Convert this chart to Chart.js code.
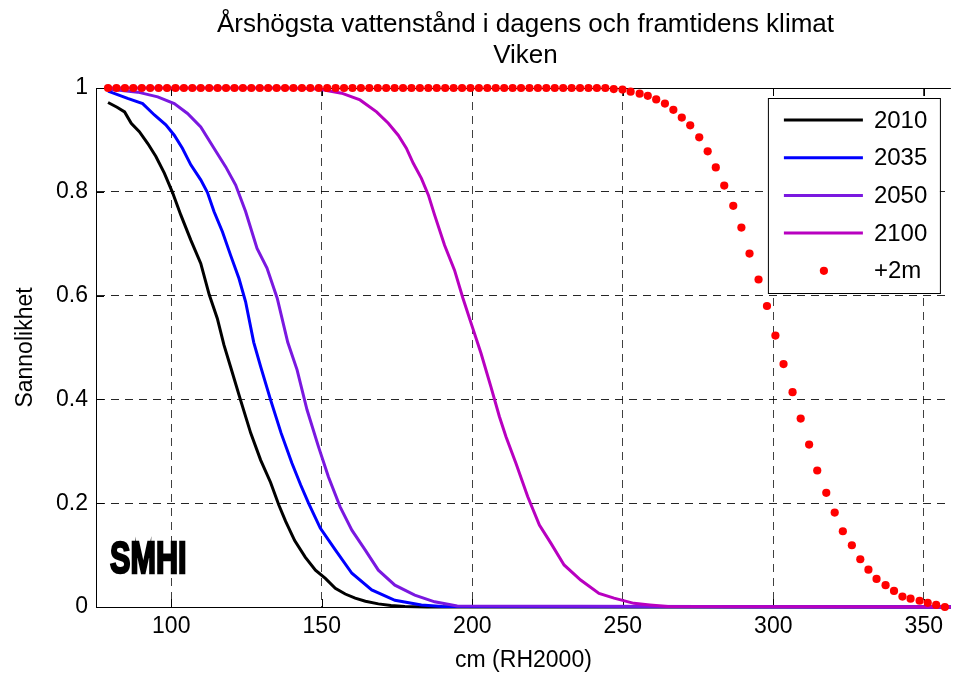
<!DOCTYPE html>
<html>
<head>
<meta charset="utf-8">
<title>Årshögsta vattenstånd – Viken</title>
<script src="https://cdn.jsdelivr.net/npm/chart.js@4.4.0/dist/chart.umd.min.js"></script>
<style>
  html, body { margin: 0; padding: 0; background: #fff; }
  #chart { display: block; }
</style>
</head>
<body>
<canvas id="chart" width="955" height="676"></canvas>
<script>
// values (x = cm RH2000, y = probability)
const titleLines = ['Årshögsta vattenstånd i dagens och framtidens klimat', 'Viken'];
const xTitle = 'cm (RH2000)';
const yTitle = 'Sannolikhet';
const yTickLabels = ['0', '0.2', '0.4', '0.6', '0.8', '1'];

const x2010 = [79.0, 82.0, 84.5, 86.7, 89.4, 92.2, 94.9, 97.7, 100.4, 103.2, 106.5, 109.8, 112.6, 115.3, 117.5, 119.7, 123.0, 126.4, 129.7, 133.0, 135.7, 138.0, 141.0, 144.5, 147.9, 151.2, 154.5, 157.8, 161.1, 164.5, 168.8, 173.0, 177.6, 185.0, 359.0];
const y2010 = [0.972, 0.963, 0.954, 0.932, 0.916, 0.893, 0.868, 0.836, 0.799, 0.755, 0.707, 0.662, 0.602, 0.556, 0.505, 0.463, 0.399, 0.335, 0.283, 0.240, 0.197, 0.165, 0.128, 0.096, 0.071, 0.055, 0.036, 0.025, 0.017, 0.011, 0.006, 0.003, 0.001, 0, 0];

const x2035 = [79.0, 85.5, 90.5, 94.4, 98.2, 101.0, 103.7, 106.5, 109.8, 112.0, 114.2, 117.0, 119.7, 122.5, 124.7, 127.4, 129.7, 133.0, 136.5, 140.1, 143.0, 145.6, 149.5, 154.5, 160.0, 166.6, 174.3, 183.1, 190.0, 359.0];
const y2035 = [0.994, 0.980, 0.970, 0.948, 0.929, 0.909, 0.884, 0.852, 0.823, 0.799, 0.762, 0.723, 0.678, 0.633, 0.588, 0.510, 0.463, 0.399, 0.335, 0.277, 0.235, 0.200, 0.152, 0.110, 0.065, 0.033, 0.013, 0.004, 0.001, 0];

const x2050 = [79.0, 88.9, 95.5, 101.0, 105.4, 109.8, 114.2, 118.1, 121.4, 124.7, 128.5, 131.8, 135.2, 138.7, 141.8, 145.1, 148.9, 152.2, 156.1, 160.0, 164.4, 168.8, 174.3, 180.9, 187.5, 195.0, 359.0];
const y2050 = [0.998, 0.992, 0.983, 0.970, 0.951, 0.925, 0.884, 0.848, 0.813, 0.762, 0.691, 0.653, 0.595, 0.510, 0.457, 0.380, 0.309, 0.251, 0.193, 0.148, 0.110, 0.071, 0.042, 0.023, 0.010, 0.002, 0];

const x2100 = [79.0, 140.0, 148.9, 156.6, 162.7, 168.2, 172.1, 175.4, 178.1, 180.4, 183.1, 185.4, 187.5, 190.8, 194.1, 196.9, 199.6, 202.9, 206.2, 209.0, 211.2, 214.5, 218.4, 222.3, 226.1, 230.5, 236.0, 242.1, 247.1, 253.7, 259.0, 265.0, 359.0];
const y2100 = [1.0, 1.0, 0.998, 0.990, 0.977, 0.954, 0.932, 0.909, 0.884, 0.855, 0.826, 0.794, 0.755, 0.697, 0.649, 0.595, 0.547, 0.489, 0.424, 0.367, 0.328, 0.277, 0.213, 0.158, 0.123, 0.081, 0.052, 0.026, 0.017, 0.007, 0.004, 0.001, 0];

const xPlus2m = [79.0, 81.8, 84.6, 87.4, 90.2, 93.0, 95.8, 98.6, 101.4, 104.2, 107.0, 109.8, 112.6, 115.4, 118.2, 121.0, 123.8, 126.6, 129.4, 132.2,
  135.0, 137.8, 140.6, 143.4, 146.2, 149.0, 151.8, 154.6, 157.4, 160.2, 163.0, 165.8, 168.6, 171.4, 174.2, 177.0, 179.8, 182.6, 185.4, 188.2,
  191.0, 193.8, 196.6, 199.4, 202.2, 205.0, 207.8, 210.6, 213.4, 216.2, 219.0, 221.8, 224.6, 227.4, 230.2, 233.0, 235.8, 238.6,
  241.4, 244.2, 247.0, 249.9, 252.6, 255.6, 258.3, 261.1, 264.0, 266.8, 269.6, 272.4, 275.4, 278.2, 280.9, 283.7, 286.7, 289.4, 292.1, 295.1,
  297.9, 300.7, 303.4, 306.4, 309.1, 311.9, 314.6, 317.6, 320.4, 323.1, 326.1, 328.9, 331.6, 334.3, 337.3, 340.1, 342.9, 345.6, 348.6, 351.3,
  354.1, 357.0];
const yPlus2m = [1, 1, 1, 1, 1, 1, 1, 1, 1, 1, 1, 1, 1, 1, 1, 1, 1, 1, 1, 1,
  1, 1, 1, 1, 1, 1, 1, 1, 1, 1, 1, 1, 1, 1, 1, 1, 1, 1, 1, 1,
  1, 1, 1, 1, 1, 1, 1, 1, 1, 1, 1, 1, 1, 1, 1, 1, 1, 1,
  1.0, 1.0, 0.998, 0.997, 0.993, 0.989, 0.985, 0.978, 0.970, 0.958, 0.943, 0.928, 0.905, 0.878, 0.847, 0.812, 0.773, 0.731, 0.681, 0.631,
  0.580, 0.523, 0.468, 0.414, 0.363, 0.313, 0.263, 0.220, 0.182, 0.146, 0.119, 0.092, 0.072, 0.054, 0.042, 0.031, 0.020, 0.016, 0.012, 0.008,
  0.004, 0.0];

const FONT = "'Liberation Sans', Arial, Helvetica, sans-serif";

function toPoints(xs, ys) {
    return xs.map((x, i) => ({ x: x, y: ys[i] }));
}

function lineSet(label, xs, ys, color, order) {
    return {
        label: label,
        data: toPoints(xs, ys),
        showLine: true,
        borderColor: color,
        backgroundColor: color,
        borderWidth: 3,
        pointRadius: 0,
        tension: 0,
        clip: false,
        order: order
    };
}

// extra drawing that MATLAB does and Chart.js does not: box, inner ticks, legend box, title, logo
const matlabLook = {
    id: 'matlabLook',
    beforeDatasetsDraw(chart) {
        const { ctx, chartArea: a, scales } = chart;
        ctx.save();
        ctx.strokeStyle = '#000';
        ctx.lineWidth = 1;
        ctx.beginPath();
        ctx.moveTo(a.left, a.top + 0.5);
        ctx.lineTo(a.right, a.top + 0.5);
        scales.x.ticks.forEach(t => {
            const px = Math.round(scales.x.getPixelForValue(t.value)) + 0.5;
            ctx.moveTo(px, a.bottom);
            ctx.lineTo(px, a.bottom - 8);
            ctx.moveTo(px, a.top);
            ctx.lineTo(px, a.top + 8);
        });
        scales.y.ticks.forEach(t => {
            const py = Math.round(scales.y.getPixelForValue(t.value)) + 0.5;
            ctx.moveTo(a.left, py);
            ctx.lineTo(a.left + 8, py);
        });
        ctx.stroke();
        ctx.restore();
    },
    afterDraw(chart) {
        const { ctx, chartArea: a } = chart;
        ctx.save();

        // title
        ctx.fillStyle = '#000';
        ctx.font = '26px ' + FONT;
        ctx.textAlign = 'center';
        ctx.textBaseline = 'middle';
        const cx = (a.left + a.right) / 2 + 2;
        ctx.fillText(titleLines[0], cx, 25);
        ctx.fillText(titleLines[1], cx, 56);

        // legend box
        const bx = a.right - 183, by = a.top + 10, bw = 172, bh = 195;
        ctx.fillStyle = '#fff';
        ctx.fillRect(bx, by, bw, bh);
        ctx.strokeStyle = '#000';
        ctx.lineWidth = 1;
        ctx.strokeRect(bx + 0.5, by + 0.5, bw, bh);
        ctx.font = '24px ' + FONT;
        ctx.textAlign = 'left';
        chart.data.datasets.forEach((ds, i) => {
            const ry = by + 22 + i * 37.7;
            if (ds.showLine) {
                ctx.strokeStyle = ds.borderColor;
                ctx.lineWidth = 3;
                ctx.beginPath();
                ctx.moveTo(bx + 16, ry);
                ctx.lineTo(bx + 95, ry);
                ctx.stroke();
            } else {
                ctx.fillStyle = ds.backgroundColor;
                ctx.beginPath();
                ctx.arc(bx + 56, ry, 4.1, 0, Math.PI * 2);
                ctx.fill();
            }
            ctx.fillStyle = '#000';
            ctx.fillText(ds.label, bx + 106, ry + 1);
        });

        // SMHI logo
        ctx.save();
        ctx.translate(a.left + 14, a.bottom - 34);
        ctx.scale(0.68, 1);
        ctx.font = 'bold 45px ' + FONT;
        ctx.textBaseline = 'alphabetic';
        ctx.fillStyle = '#000';
        ctx.strokeStyle = '#000';
        ctx.lineWidth = 2.5;
        ctx.fillText('SMHI', 0, 0);
        ctx.strokeText('SMHI', 0, 0);
        ctx.restore();

        ctx.restore();
    }
};

new Chart(document.getElementById('chart'), {
    type: 'scatter',
    data: {
        datasets: [
            lineSet('2010', x2010, y2010, '#000000', 4),
            lineSet('2035', x2035, y2035, '#0000ff', 3),
            lineSet('2050', x2050, y2050, '#7a18e0', 2),
            lineSet('2100', x2100, y2100, '#b800c0', 1),
            {
                label: '+2m',
                data: toPoints(xPlus2m, yPlus2m),
                showLine: false,
                pointRadius: 4.1,
                pointHoverRadius: 4.1,
                pointBorderWidth: 0,
                backgroundColor: '#ff0000',
                borderColor: '#ff0000',
                clip: false,
                order: 0
            }
        ]
    },
    options: {
        responsive: false,
        animation: false,
        layout: { padding: { top: 88, right: 0, left: 0, bottom: 0 } },
        plugins: {
            legend: { display: false },
            tooltip: { enabled: false },
            title: { display: false }
        },
        scales: {
            x: {
                type: 'linear',
                min: 75,
                max: 359,
                afterFit: s => { s.height = 69; },
                ticks: {
                    stepSize: 50,
                    includeBounds: false,
                    color: '#000',
                    padding: 6,
                    maxRotation: 0,
                    font: { family: FONT, size: 23 }
                },
                grid: { color: 'rgba(0,0,0,0.75)', lineWidth: 1, drawTicks: false },
                border: { display: true, color: '#000', width: 1, dash: [8, 6] },
                title: {
                    display: true,
                    text: xTitle,
                    color: '#000',
                    padding: { top: 0, bottom: 2 },
                    font: { family: FONT, size: 23 }
                }
            },
            y: {
                type: 'linear',
                min: 0,
                max: 1,
                afterFit: s => { s.width = 96; },
                ticks: {
                    stepSize: 0.2,
                    color: '#000',
                    padding: 8,
                    font: { family: FONT, size: 23 },
                    callback: (v, i) => yTickLabels[i]
                },
                grid: { color: 'rgba(0,0,0,0.85)', lineWidth: 1, drawTicks: false },
                border: { display: true, color: '#000', width: 1, dash: [8, 6] },
                title: {
                    display: true,
                    text: yTitle,
                    color: '#000',
                    padding: { top: 12, bottom: 0 },
                    font: { family: FONT, size: 23 }
                }
            }
        }
    },
    plugins: [matlabLook]
});
</script>
</body>
</html>
